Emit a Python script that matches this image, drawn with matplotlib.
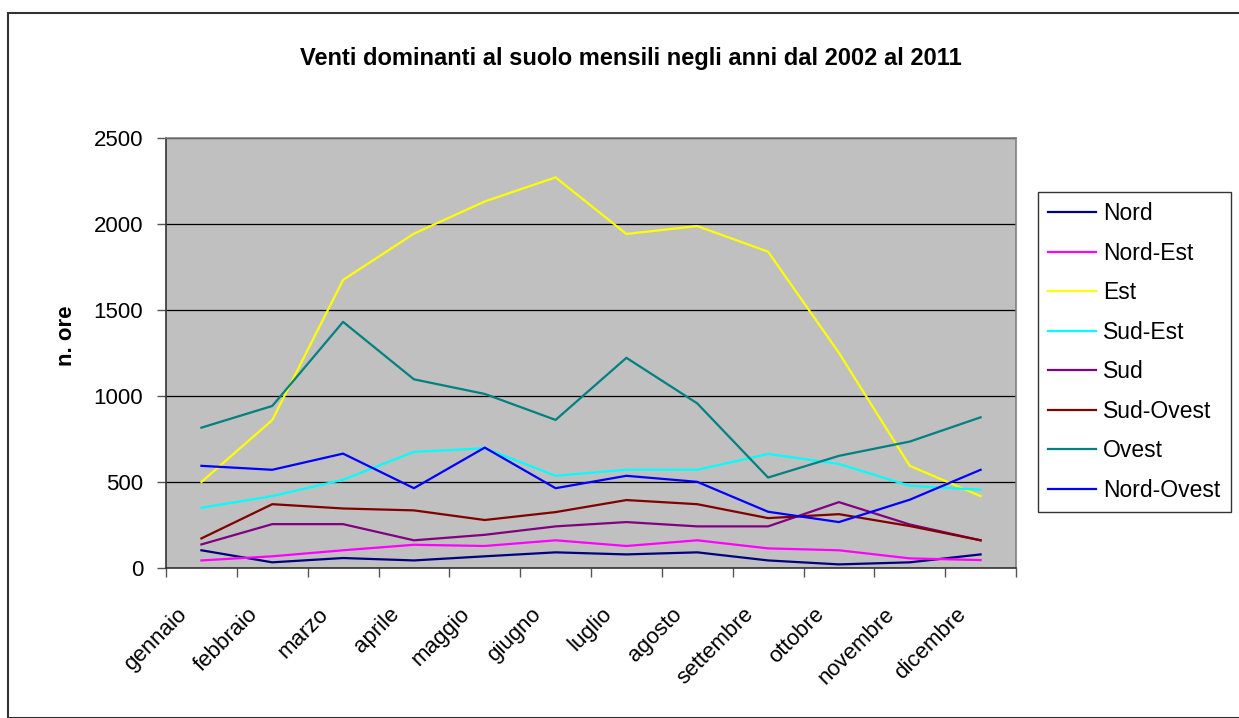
import matplotlib
matplotlib.use("Agg")
import matplotlib.pyplot as plt
from matplotlib.patches import Rectangle

months = ["gennaio", "febbraio", "marzo", "aprile", "maggio", "giugno",
          "luglio", "agosto", "settembre", "ottobre", "novembre", "dicembre"]

nord       = [103, 33, 58, 44, 68, 91, 79, 91, 44, 21, 33, 79]
nord_est   = [44, 68, 103, 135, 128, 161, 128, 161, 114, 103, 56, 46]
est        = [500, 860, 1675, 1944, 2131, 2271, 1942, 1988, 1839, 1251, 594, 418]
sud_est    = [350, 418, 513, 675, 696, 536, 571, 571, 663, 605, 478, 455]
sud        = [137, 255, 255, 161, 193, 242, 267, 242, 242, 383, 253, 161]
sud_ovest  = [172, 371, 346, 335, 279, 325, 395, 371, 290, 313, 244, 161]
ovest      = [816, 942, 1431, 1097, 1012, 861, 1222, 957, 526, 652, 735, 876]
nord_ovest = [594, 571, 665, 464, 700, 464, 536, 501, 327, 267, 397, 571]

series_names = ["Nord", "Nord-Est", "Est", "Sud-Est", "Sud", "Sud-Ovest", "Ovest", "Nord-Ovest"]
series_vals = [nord, nord_est, est, sud_est, sud, sud_ovest, ovest, nord_ovest]
colors = ["#000080", "#FF00FF", "#FFFF00", "#00FFFF", "#800080", "#800000", "#008080", "#0000FF"]

plt.rcParams['font.family'] = ['Liberation Sans', 'DejaVu Sans']

W, H = 1239, 718
fig = plt.figure(figsize=(W / 100, H / 100), dpi=100)

# outer chart border
fig.patches.append(Rectangle((8 / W, 0), 1.2, 1 - 13 / H, transform=fig.transFigure,
                             fill=False, edgecolor="#333333", linewidth=1.5))

ax = fig.add_axes([166 / W, 1 - 568 / H, 850 / W, 430 / H])
ax.set_facecolor("#C0C0C0")

x = list(range(len(months)))
for name, vals, c in zip(series_names, series_vals, colors):
    ax.plot(x, vals, color=c, linewidth=1.6, label=name)

ax.set_xlim(-0.5, len(months) - 0.5)
ax.set_ylim(0, 2500)
ax.set_yticks([0, 500, 1000, 1500, 2000, 2500])
ax.yaxis.grid(True, color="black", linewidth=0.9)
ax.set_axisbelow(True)

# category boundary ticks
ax.set_xticks([i - 0.5 for i in range(len(months) + 1)], minor=False)
ax.set_xticklabels([])
ax.tick_params(axis='x', length=6.5, color="#555555", width=1)
ax.tick_params(axis='y', length=6.5, color="#555555", width=1, labelsize=16, pad=10)

for i, m in enumerate(months):
    ax.annotate(m, xy=(i, 0), xycoords=('data', 'axes fraction'),
                xytext=(-13, -31), textcoords='offset points',
                rotation=45, ha='right', va='center', rotation_mode='anchor',
                fontsize=16)

for s in ax.spines.values():
    s.set_color("#808080")
    s.set_linewidth(1.2)
ax.spines['left'].set_color("#333333")
ax.spines['bottom'].set_color("#333333")

ax.set_ylabel("n. ore", fontsize=16, fontweight='bold')
ax.yaxis.set_label_coords((77 - 166) / 850, 0.54)

fig.text(631 / W, 1 - 58 / H, "Venti dominanti al suolo mensili negli anni dal 2002 al 2011",
         ha='center', va='center', fontsize=17, fontweight='bold')

leg = ax.legend(loc='upper left', bbox_to_anchor=(1038 / W, 1 - 192 / H),
                bbox_transform=fig.transFigure, frameon=True, fancybox=False,
                fontsize=16.5, handlelength=2.1, labelspacing=0.72, borderpad=0.45,
                handletextpad=0.3, borderaxespad=0, handleheight=0.7)
leg.get_frame().set_edgecolor("black")
leg.get_frame().set_linewidth(1.0)

fig.savefig("out.png", dpi=100)
